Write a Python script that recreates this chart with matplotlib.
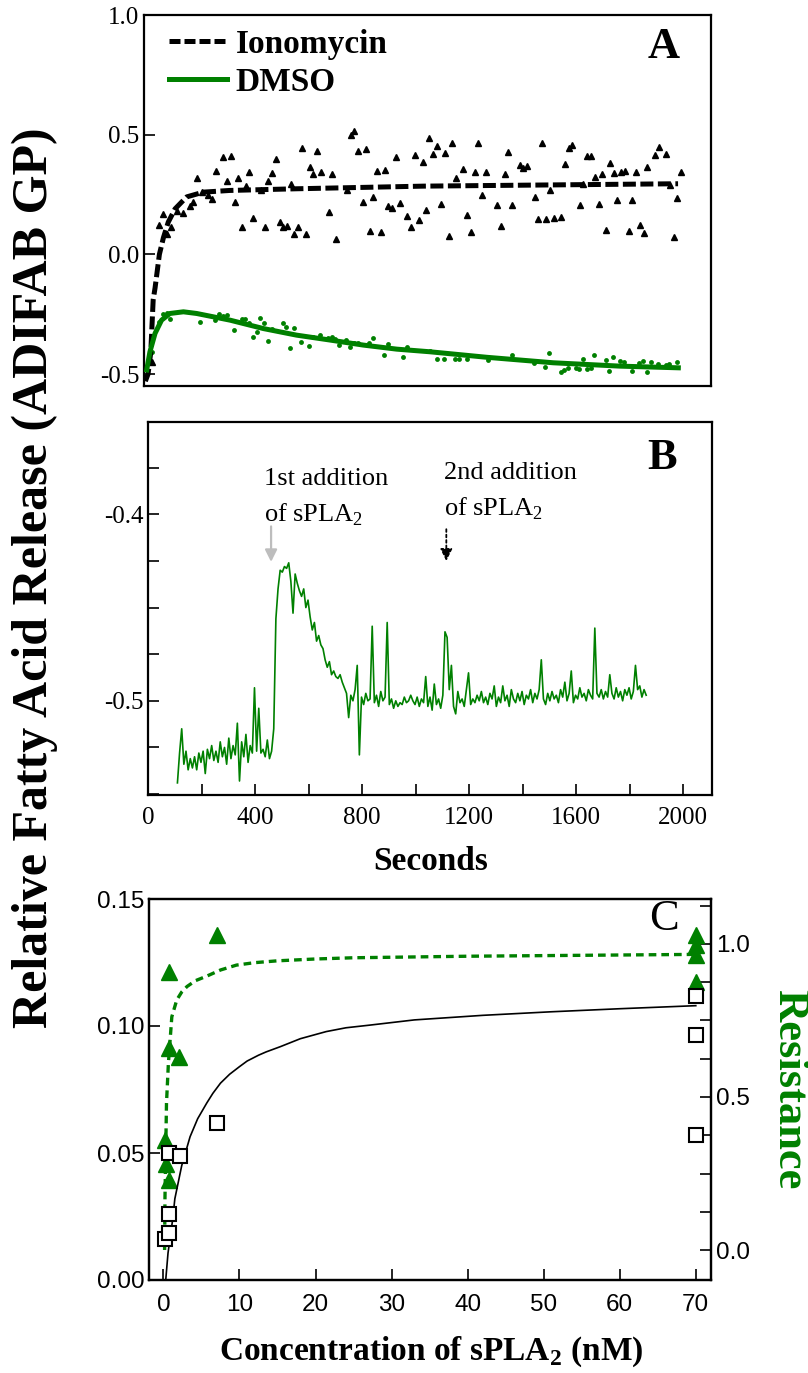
#!/usr/bin/env python3
'''
Three stacked panels: ADIFAB GP fatty acid release (A: ionomycin vs DMSO,
B: sPLA2 additions trace, C: dose response with resistance on the right).
'''

import numpy as np
import matplotlib
matplotlib.use('Agg')  # headless
import matplotlib.pyplot as plt
from matplotlib.lines import Line2D
from matplotlib.ticker import MultipleLocator, FormatStrFormatter

plt.rcParams['font.family'] = ['Liberation Serif', 'DejaVu Serif']
plt.rcParams['axes.unicode_minus'] = False
plt.rcParams['mathtext.fontset'] = 'custom'
plt.rcParams['mathtext.rm'] = 'Liberation Serif'
plt.rcParams['mathtext.bf'] = 'Liberation Serif:bold'

GREEN = '#008000'

## DATA

# Panel A: fitted curves (seconds, GP)
iono_fit_t = [5, 15, 25, 34, 41, 57, 72, 90, 115, 158, 220, 318, 565, 1034, 1500, 1978]
iono_fit_y = [-0.53, -0.50, -0.41, -0.19, -0.14, 0.0, 0.07, 0.135, 0.19, 0.24, 0.26,
              0.267, 0.274, 0.285, 0.29, 0.295]
dmso_fit_t = [10, 22, 41, 65, 96, 146, 195, 319, 442, 565, 689, 812, 936, 1059, 1269,
              1516, 1763, 1979]
dmso_fit_y = [-0.483, -0.407, -0.33, -0.275, -0.247, -0.24, -0.247, -0.275, -0.31,
              -0.3375, -0.358, -0.379, -0.396, -0.407, -0.43, -0.453, -0.467, -0.474]

# Panel A: raw points
iono_t = [28, 57, 72, 84, 99, 121, 143, 170, 183, 195, 214, 238, 251, 267, 294, 309,
          321, 337, 349, 362, 378, 390, 405, 432, 447, 460, 475, 489, 504, 516, 528,
          543, 557, 572, 585, 599, 615, 627, 642, 656, 684, 698, 710, 752, 767, 779,
          794, 810, 822, 837, 849, 864, 877, 891, 903, 917, 932, 947, 975, 989, 1003,
          1017, 1032, 1044, 1057, 1071, 1086, 1099, 1114, 1128, 1142, 1156, 1183, 1197,
          1211, 1226, 1238, 1252, 1267, 1309, 1322, 1336, 1349, 1364, 1393, 1405, 1418,
          1447, 1460, 1475, 1489, 1504, 1517, 1546, 1559, 1573, 1586, 1614, 1627, 1641,
          1656, 1669, 1684, 1697, 1711, 1726, 1740, 1753, 1767, 1780, 1795, 1809, 1822,
          1837, 1851, 1864, 1893, 1906, 1933, 1947, 1962, 1975, 1989]
iono_y = [-0.45, 0.121, 0.167, 0.083, 0.114, 0.183, 0.174, 0.204, 0.218, 0.318, 0.26,
          0.246, 0.232, 0.35, 0.405, 0.308, 0.412, 0.218, 0.319, 0.1125, 0.285, 0.346,
          0.151, 0.267, 0.114, 0.305, 0.34, 0.399, 0.135, 0.114, 0.118, 0.292, 0.083,
          0.114, 0.445, 0.083, 0.367, 0.336, 0.433, 0.346, 0.178, 0.336, 0.065, 0.267,
          0.5, 0.514, 0.433, 0.218, 0.439, 0.097, 0.24, 0.347, 0.093, 0.354, 0.204,
          0.195, 0.407, 0.214, 0.16, 0.114, 0.417, 0.143, 0.386, 0.186, 0.486, 0.419,
          0.453, 0.211, 0.425, 0.078, 0.465, 0.319, 0.357, 0.163, 0.092, 0.342, 0.464,
          0.25, 0.344, 0.207, 0.12, 0.335, 0.429, 0.207, 0.375, 0.361, 0.371, 0.239,
          0.146, 0.464, 0.146, 0.267, 0.151, 0.154, 0.378, 0.445, 0.457, 0.207, 0.294,
          0.411, 0.411, 0.322, 0.211, 0.336, 0.103, 0.383, 0.338, 0.229, 0.343, 0.349,
          0.099, 0.228, 0.342, 0.124, 0.089, 0.365, 0.417, 0.449, 0.421, 0.289, 0.072,
          0.236, 0.346]
dmso_t = [28, 57, 69, 84, 96, 207, 263, 279, 294, 306, 335, 362, 375, 389, 402, 417,
          431, 444, 458, 473, 514, 527, 541, 556, 583, 611, 625, 653, 681, 695, 709,
          722, 749, 763, 778, 791, 832, 848, 889, 902, 959, 973, 1059, 1084, 1112, 1152,
          1168, 1195, 1275, 1362, 1445, 1486, 1501, 1543, 1557, 1571, 1599, 1612, 1626,
          1640, 1655, 1668, 1710, 1723, 1738, 1764, 1778, 1806, 1834, 1848, 1863, 1877,
          1904, 1932, 1946, 1973]
dmso_y = [-0.407, -0.282, -0.251, -0.243, -0.272, -0.282, -0.275, -0.25, -0.257,
          -0.254, -0.317, -0.271, -0.269, -0.285, -0.345, -0.325, -0.267, -0.286,
          -0.361, -0.31, -0.286, -0.303, -0.392, -0.307, -0.365, -0.381, -0.347,
          -0.3375, -0.35, -0.345, -0.355, -0.379, -0.358, -0.389, -0.37, -0.37, -0.371,
          -0.351, -0.421, -0.374, -0.428, -0.3875, -0.403, -0.4375, -0.4375, -0.439,
          -0.439, -0.4375, -0.442, -0.419, -0.455, -0.47, -0.414, -0.493, -0.483,
          -0.475, -0.475, -0.481, -0.4375, -0.481, -0.476, -0.419, -0.442, -0.486,
          -0.43, -0.447, -0.449, -0.486, -0.455, -0.446, -0.492, -0.45, -0.457, -0.462,
          -0.46, -0.45]

# Panel B: trace sampled every 8 s starting at 110 s
trace_t0 = 110
trace_dt = 8
trace_y = [
    -0.544, -0.528, -0.515, -0.534, -0.527, -0.537, -0.531, -0.536, -0.530, -0.537,
    -0.528, -0.533, -0.527, -0.539, -0.526, -0.531, -0.524, -0.532, -0.527, -0.533,
    -0.522, -0.530, -0.525, -0.534, -0.520, -0.531, -0.524, -0.529, -0.512, -0.543,
    -0.522, -0.530, -0.518, -0.533, -0.524, -0.528, -0.493, -0.527, -0.504, -0.528,
    -0.526, -0.530, -0.521, -0.531, -0.527, -0.515, -0.456, -0.440, -0.430, -0.431,
    -0.428, -0.429, -0.426, -0.436, -0.453, -0.432, -0.437, -0.441, -0.444, -0.440,
    -0.450, -0.446, -0.455, -0.462, -0.458, -0.468, -0.465, -0.470, -0.472, -0.478,
    -0.482, -0.479, -0.486, -0.484, -0.487, -0.488, -0.486, -0.490, -0.493, -0.496,
    -0.509, -0.497, -0.500, -0.494, -0.481, -0.529, -0.498, -0.502, -0.496, -0.500,
    -0.499, -0.460, -0.501, -0.497, -0.503, -0.495, -0.500, -0.498, -0.458, -0.502,
    -0.499, -0.504, -0.500, -0.503, -0.501, -0.502, -0.498, -0.501, -0.500, -0.497,
    -0.500, -0.502, -0.498, -0.503, -0.499, -0.501, -0.487, -0.503, -0.498, -0.505,
    -0.491, -0.502, -0.499, -0.504, -0.497, -0.463, -0.466, -0.494, -0.481, -0.503,
    -0.507, -0.495, -0.501, -0.499, -0.503, -0.494, -0.485, -0.502, -0.499, -0.501,
    -0.497, -0.500, -0.495, -0.501, -0.498, -0.502, -0.496, -0.499, -0.492, -0.503,
    -0.498, -0.501, -0.492, -0.500, -0.497, -0.503, -0.494, -0.499, -0.501, -0.496,
    -0.500, -0.495, -0.502, -0.497, -0.499, -0.494, -0.501, -0.496, -0.499, -0.494,
    -0.478, -0.499, -0.502, -0.496, -0.500, -0.495, -0.499, -0.497, -0.501, -0.494,
    -0.498, -0.490, -0.500, -0.496, -0.484, -0.501, -0.497, -0.499, -0.493, -0.498,
    -0.496, -0.500, -0.494, -0.497, -0.499, -0.461, -0.496, -0.498, -0.494, -0.499,
    -0.495, -0.498, -0.486, -0.496, -0.499, -0.493, -0.498, -0.495, -0.500, -0.494,
    -0.497, -0.493, -0.499, -0.495, -0.481, -0.494, -0.492, -0.498, -0.494, -0.497,
]
first_add_t = 460
second_add_t = 1115

# Panel C: concentration (nM)
sq_conc = [0.2, 0.7, 0.7, 0.7, 2.2, 7.0, 70, 70, 70]
sq_release = [0.016, 0.0185, 0.026, 0.050, 0.049, 0.062, 0.112, 0.0965, 0.057]
fit_conc = [0.3, 0.6, 1.2, 1.5, 2.4, 3.5, 4.5, 5.7, 6.5, 7.5, 8.7, 10, 11, 12.5, 13.5,
            15.4, 18, 21.4, 24, 27, 33, 42, 51, 60, 70]
fit_release = [0.0, 0.0106, 0.0236, 0.032, 0.045, 0.0564, 0.0635, 0.0697, 0.0735, 0.0775,
               0.081, 0.084, 0.0862, 0.0885, 0.0898, 0.0919, 0.0950, 0.0978, 0.0993,
               0.1003, 0.1024, 0.1042, 0.1056, 0.1068, 0.108]
tri_conc = [0.2, 0.35, 0.75, 0.75, 0.75, 2.1, 7.0, 70, 70, 70, 70]
tri_resist = [0.36, 0.28, 0.23, 0.66, 0.91, 0.632, 1.03, 1.029, 0.997, 0.964, 0.877]
res_fit_conc = [0.15, 0.2, 0.4, 0.65, 1.1, 1.75, 2.4, 3.1, 4.2, 5.7, 7.5, 9.6, 12, 15, 20,
                25, 40, 55, 70]
res_fit_y = [0.0, 0.17, 0.48, 0.61, 0.762, 0.817, 0.843, 0.861, 0.880, 0.895, 0.915,
             0.931, 0.939, 0.945, 0.951, 0.955, 0.960, 0.963, 0.966]


## PLOTTING
W, H = 808, 1373
fig = plt.figure(figsize=(W / 100, H / 100), dpi=100)


def box(l, t, r, b):
    return [l / W, 1 - b / H, (r - l) / W, (b - t) / H]


def style(ax, font):
    for s in ax.spines.values():
        s.set_linewidth(1.6)
    ax.tick_params(which='both', direction='in', length=8, width=1.2,
                   labelsize=18 if font == 'serif' else 17.5)
    for lab in ax.get_xticklabels() + ax.get_yticklabels():
        lab.set_family('Liberation Serif' if font == 'serif' else 'Liberation Sans')


# A
axA = fig.add_axes(box(144, 15, 711, 386))
axA.plot(iono_t, iono_y, '^', color='black', ms=4, zorder=2)
axA.plot(dmso_t, dmso_y, 'o', color=GREEN, ms=3.5, mec='none', zorder=2)
axA.plot(iono_fit_t, iono_fit_y, color='black', lw=3.6, dashes=(2.6, 0.9), zorder=3)
axA.plot(dmso_fit_t, dmso_fit_y, color=GREEN, lw=3.6, zorder=3)
axA.set_xlim(0, 2100)
axA.set_ylim(-0.55, 1.0)
axA.set_xticks([])
axA.set_yticks([-0.5, 0.0, 0.5, 1.0])
axA.yaxis.set_major_formatter(FormatStrFormatter('%.1f'))
style(axA, 'serif')
handles = [Line2D([], [], color='black', lw=3.6, dashes=(2.2, 0.8)),
           Line2D([], [], color=GREEN, lw=3.6)]
axA.legend(handles, ['Ionomycin', 'DMSO'], loc='upper left', bbox_to_anchor=(0.044, 0.962),
           frameon=False, borderaxespad=0, borderpad=0, handlelength=1.75,
           handletextpad=0.25, labelspacing=0.2, prop={'weight': 'bold', 'size': 24})
axA.text(0.917, 0.914, 'A', transform=axA.transAxes, ha='center', va='center',
         fontsize=32, fontweight='bold')

# B
axB = fig.add_axes(box(148, 422, 712, 795))
trace_t = np.arange(len(trace_y)) * trace_dt + trace_t0
axB.plot(trace_t, trace_y, color=GREEN, lw=1.2)
axB.set_xlim(0, 2108)
axB.set_ylim(-0.5505, -0.3505)
axB.xaxis.set_major_locator(MultipleLocator(400))
axB.xaxis.set_minor_locator(MultipleLocator(200))
axB.yaxis.set_major_locator(MultipleLocator(0.1))
axB.yaxis.set_minor_locator(MultipleLocator(0.025))
axB.yaxis.set_major_formatter(FormatStrFormatter('%.1f'))
style(axB, 'serif')
axB.tick_params(axis='x', pad=9)
axB.text(0.911, 0.9035, 'B', transform=axB.transAxes, ha='center', va='center',
         fontsize=32, fontweight='bold')
axB.text(432, -0.3845, '1st addition', fontsize=19, va='baseline')
axB.text(432, -0.4038, r'of sPLA$_\mathrm{2}$', fontsize=19, va='baseline')
axB.text(1106, -0.3812, '2nd addition', fontsize=19, va='baseline')
axB.text(1106, -0.4005, r'of sPLA$_\mathrm{2}$', fontsize=19, va='baseline')
axB.annotate('', xy=(first_add_t, -0.427), xytext=(first_add_t, -0.405),
             arrowprops=dict(arrowstyle='-|>', color='#bdbdbd', lw=1.6, mutation_scale=18))
axB.annotate('', xy=(second_add_t, -0.4265), xytext=(second_add_t, -0.4065),
             arrowprops=dict(arrowstyle='-|>', color='black', lw=1.3, ls=(0, (1.5, 1.5)),
                             mutation_scale=18))
fig.text(431 / W, 1 - 870 / H, 'Seconds', ha='center', va='baseline',
         fontsize=24, fontweight='bold')

# C
axC = fig.add_axes(box(149, 899, 711, 1280))
axR = axC.twinx()
axR.plot(res_fit_conc, res_fit_y, color=GREEN, lw=2.4, ls=(0, (2.3, 1.5)))
axR.plot(tri_conc, tri_resist, '^', color=GREEN, ms=11, mec=GREEN)
axC.plot(fit_conc, fit_release, color='black', lw=1.2)
axC.plot(sq_conc, sq_release, 's', mfc='white', mec='black', mew=1.5, ms=9.5)
axC.set_zorder(axR.get_zorder() + 1)
axC.patch.set_visible(False)
axC.set_xlim(-1.9, 72.0)
axC.set_ylim(0, 0.15)
axR.set_ylim(-0.098, 1.147)
axC.set_xticks(np.arange(0, 71, 10))
axC.set_yticks([0.0, 0.05, 0.10, 0.15])
axC.yaxis.set_major_formatter(FormatStrFormatter('%.2f'))
axR.set_yticks([0.0, 0.5, 1.0])
axR.yaxis.set_minor_locator(MultipleLocator(0.125))
axR.yaxis.set_major_formatter(FormatStrFormatter('%.1f'))
style(axC, 'sans')
style(axR, 'sans')
axC.tick_params(axis='x', pad=10)
axC.text(0.916, 0.9475, 'C', transform=axC.transAxes, ha='center', va='center',
         fontsize=32)
fig.text(431 / W, 1 - 1360 / H, r'Concentration of sPLA$_\mathbf{2}$ (nM)', ha='center',
         va='baseline', fontsize=24, fontweight='bold')

fig.text(789 / W, 1 - 1089 / H, 'Resistance', rotation=270, ha='center', va='center',
         fontsize=32, fontweight='bold', color=GREEN)
fig.text(35 / W, 1 - 578 / H, 'Relative Fatty Acid Release (ADIFAB GP)', rotation=90,
         ha='center', va='center', fontsize=36, fontweight='bold')

plt.savefig('out.png', dpi=100)
